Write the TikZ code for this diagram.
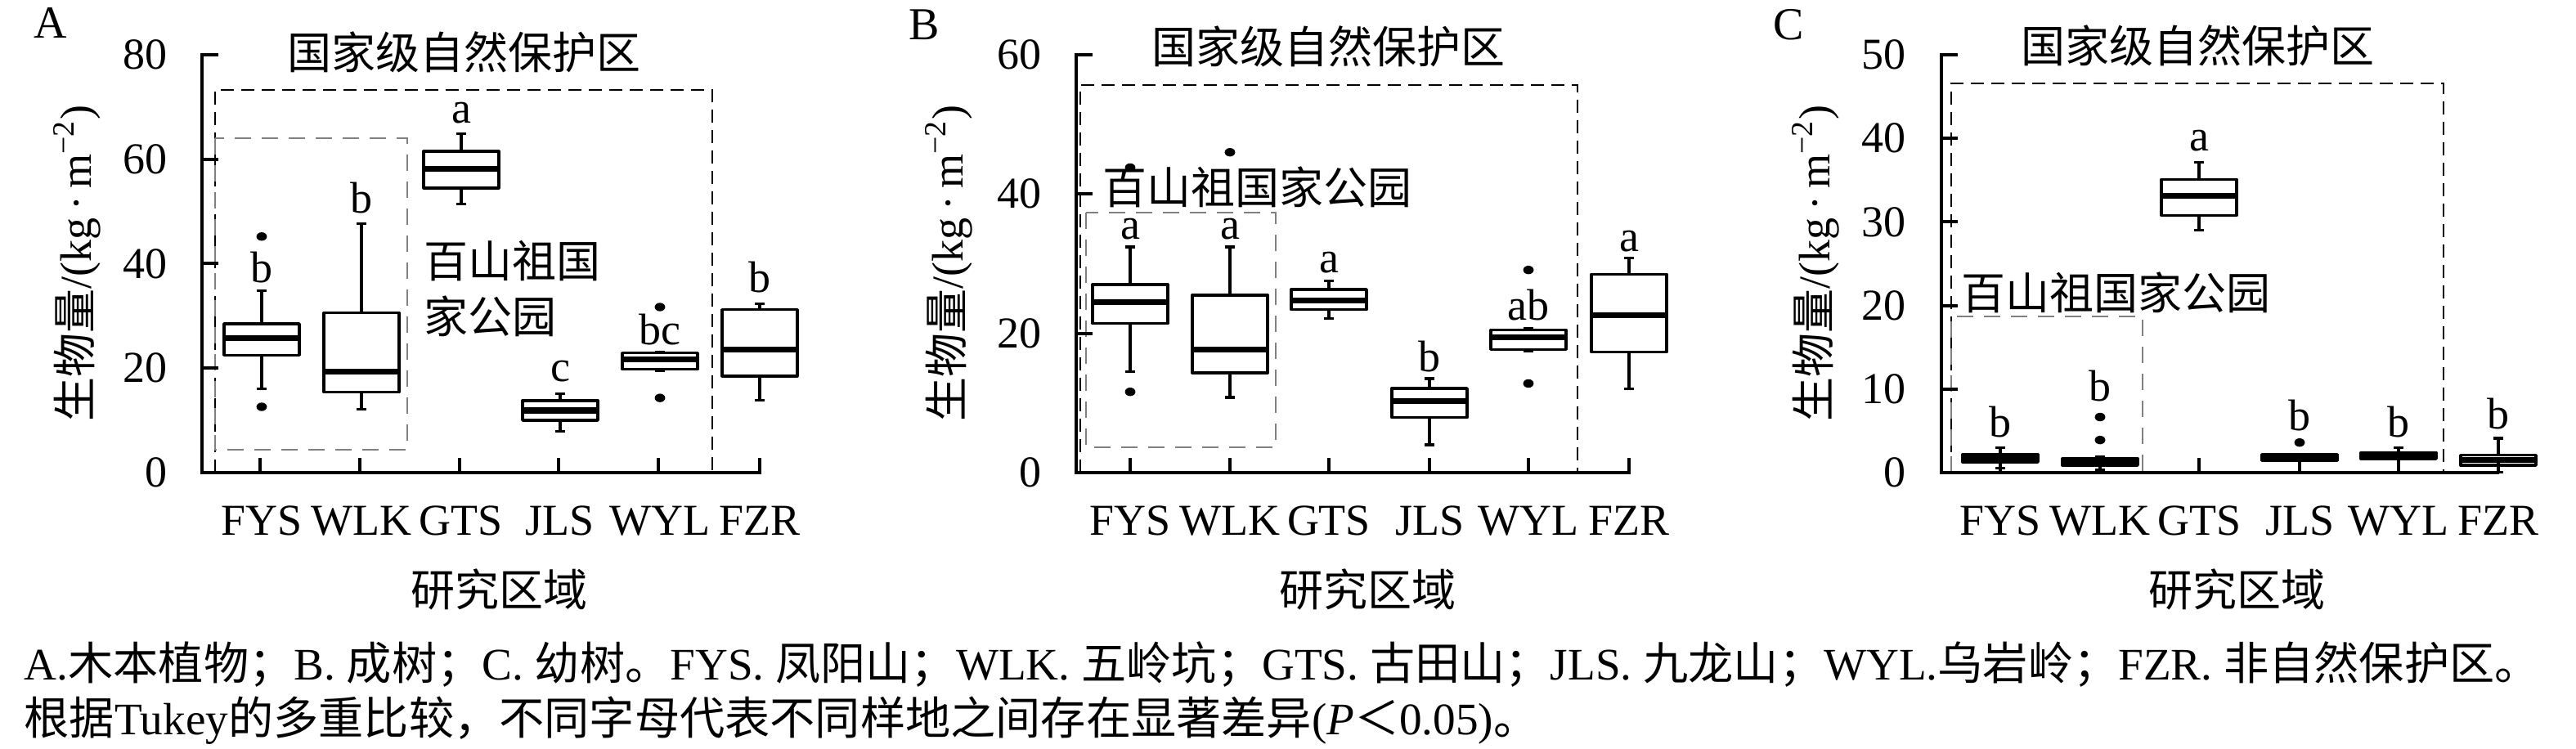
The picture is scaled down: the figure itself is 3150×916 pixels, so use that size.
\documentclass[tikz,border=0pt]{standalone}
\usepackage{fontspec}
\setmainfont{Liberation Serif}
\newfontfamily\cjk{Noto Sans CJK SC}
\newcommand{\bxp}[6]{%
  \draw[whisk] (#1,#2) -- (#1,#3) (#1,#5) -- (#1,#6);
  \draw[whisk] (#1-6,#2) -- (#1+6,#2) (#1-6,#6) -- (#1+6,#6);
  \draw[medl] (#1-46,#4) -- (#1+46,#4);
  \draw[boxl] (#1-46,#3) rectangle (#1+46,#5);
}
\newcommand{\outdot}[2]{\fill (#1,#2) ellipse [x radius=1.6pt, y radius=1.3pt];}
\begin{document}
\begin{tikzpicture}[x=0.25pt,y=-0.25pt,
  axisl/.style={line width=1pt},
  whisk/.style={line width=0.8pt},
  boxl/.style={line width=0.85pt, line join=round},
  medl/.style={line width=1.8pt},
  dashblk/.style={line width=0.7pt, dash pattern=on 4pt off 2.25pt},
  dashgray/.style={line width=0.7pt, black!50, dash pattern=on 5pt off 3.25pt},
  lbl/.style={font=\fontsize{13.5}{16}\selectfont, inner sep=0pt},
  plbl/.style={font=\fontsize{14}{16}\selectfont, inner sep=0pt},
  cjkl/.style={font=\cjk\fontsize{13.5}{16}\selectfont, inner sep=0pt},
  capl/.style={font=\fontsize{13.8}{16}\selectfont, inner sep=0pt, anchor=base west}]
\useasboundingbox (0,0) rectangle (3150,916);

% ===================== Panel A =====================
\node[plbl] (pA) at (62,28) {A};
\node[cjkl] (tA) at (567,64) {国家级自然保护区};
\draw[dashblk] (263,578) -- (263,110) -- (871,110) -- (871,578);
\draw[dashgray] (263,169) rectangle (498,550);
\node[cjkl, anchor=west] (bsA1) at (518,319) {百山祖国};
\node[cjkl, anchor=west] (bsA2) at (518,387) {家公园};
\draw[axisl] (267,67) -- (247,67) -- (247,578) -- (931,578);
\foreach \yy in {194.75,322.5,450.25} \draw[axisl] (247,\yy) -- (267,\yy);
\foreach \v/\yy in {80/67,60/194.75,40/322.5,20/450.25,0/578}
  \node[lbl, anchor=east] (yA\v) at (205,\yy) {\v};
\foreach \xx in {318,440,562,683,805,929} \draw[axisl] (\xx,578) -- (\xx,560);
\node[lbl, rotate=90] (ylA) at (94,322) {{\cjk 生物量}/(kg\,·\,m\textsuperscript{−2})};
\foreach \n/\xx in {FYS/320,WLK/442,GTS/564,JLS/685,WYL/807,FZR/929}
  \node[lbl, anchor=base] (xA\n) at (\xx,655) {\n};
\node[cjkl] (xtA) at (610,721) {研究区域};
\begin{scope}[shift={(0,578)}, y=1.5969pt]
  \bxp{320}{16.1}{22.5}{25.8}{28.5}{34.8}
  \outdot{320}{45.2} \outdot{320}{12.6}
  \bxp{442}{12.1}{15.4}{19.3}{30.6}{47.7}
  \bxp{564}{51.4}{54.5}{58.1}{61.5}{64.9}
  \bxp{685}{7.9}{10.0}{11.9}{13.8}{15.1}
  \bxp{807}{19.5}{19.8}{21.7}{22.9}{23.1}
  \outdot{807}{31.7} \outdot{807}{14.3}
  \bxp{929}{13.9}{18.5}{23.6}{31.2}{32.3}
\end{scope}
\node[lbl, anchor=base] (lA1) at (320,346) {b};
\node[lbl, anchor=base] (lA2) at (442,261) {b};
\node[lbl, anchor=base] (lA3) at (564,151) {a};
\node[lbl, anchor=base] (lA4) at (685,467) {c};
\node[lbl, anchor=base] (lA5) at (807,422) {bc};
\node[lbl, anchor=base] (lA6) at (929,358) {b};

% ===================== Panel B =====================
\node[plbl] (pB) at (1130,30) {B};
\node[cjkl] (tB) at (1624,57) {国家级自然保护区};
\draw[dashblk] (1321,578) -- (1321,104) -- (1929,104) -- (1929,578);
\draw[dashgray] (1328,260) rectangle (1560,547);
\node[cjkl, anchor=west] (bsB) at (1348,229) {百山祖国家公园};
\draw[axisl] (1336,67) -- (1316,67) -- (1316,578) -- (1994,578);
\foreach \yy in {237.3,407.7} \draw[axisl] (1316,\yy) -- (1336,\yy);
\foreach \v/\yy in {60/67,40/237.3,20/407.7,0/578}
  \node[lbl, anchor=east] (yB\v) at (1274,\yy) {\v};
\foreach \xx in {1382,1504,1625,1748,1869,1992} \draw[axisl] (\xx,578) -- (\xx,560);
\node[lbl, rotate=90] (ylB) at (1160,322) {{\cjk 生物量}/(kg\,·\,m\textsuperscript{−2})};
\foreach \n/\xx in {FYS/1382,WLK/1504,GTS/1625,JLS/1748,WYL/1869,FZR/1992}
  \node[lbl, anchor=base] (xB\n) at (\xx,655) {\n};
\node[cjkl] (xtB) at (1672,721) {研究区域};
\begin{scope}[shift={(0,578)}, y=2.1292pt]
  \bxp{1382}{14.5}{21.4}{24.5}{27.0}{32.4}
  \outdot{1382}{43.8} \outdot{1382}{11.6}
  \bxp{1504}{10.8}{14.3}{17.7}{25.5}{32.4}
  \outdot{1504}{46.0}
  \bxp{1625}{22.1}{23.4}{24.7}{26.3}{27.5}
  \bxp{1748}{4.0}{7.9}{10.3}{12.1}{13.5}
  \bxp{1869}{17.5}{17.7}{19.4}{20.5}{20.7}
  \outdot{1869}{29.1} \outdot{1869}{12.8}
  \bxp{1992}{12.0}{17.3}{22.6}{28.5}{30.8}
\end{scope}
\node[lbl, anchor=base] (lB1) at (1382,293) {a};
\node[lbl, anchor=base] (lB2) at (1504,293) {a};
\node[lbl, anchor=base] (lB3) at (1625,334) {a};
\node[lbl, anchor=base] (lB4) at (1748,455) {b};
\node[lbl, anchor=base] (lB5) at (1869,392) {ab};
\node[lbl, anchor=base] (lB6) at (1992,308) {a};

% ===================== Panel C =====================
\node[plbl] (pC) at (2187,30) {C};
\node[cjkl] (tC) at (2687,56) {国家级自然保护区};
\draw[dashblk] (2386,578) -- (2386,102) -- (2988,102) -- (2988,578);
\draw[dashgray] (2386,578) -- (2386,387) -- (2620,387) -- (2620,578);
\node[cjkl, anchor=west] (bsC) at (2398,358) {百山祖国家公园};
\draw[axisl] (2394,67) -- (2374,67) -- (2374,578) -- (3056,578);
\foreach \yy in {169.2,271.4,373.6,475.8} \draw[axisl] (2374,\yy) -- (2394,\yy);
\foreach \v/\yy in {50/67,40/169.2,30/271.4,20/373.6,10/475.8,0/578}
  \node[lbl, anchor=east] (yC\v) at (2331,\yy) {\v};
\foreach \xx in {2446,2568,2689,2812,2933,3055} \draw[axisl] (\xx,578) -- (\xx,560);
\node[lbl, rotate=90] (ylC) at (2220,322) {{\cjk 生物量}/(kg\,·\,m\textsuperscript{−2})};
\foreach \n/\xx in {FYS/2446,WLK/2568,GTS/2689,JLS/2812,WYL/2933,FZR/3055}
  \node[lbl, anchor=base] (xC\n) at (\xx,655) {\n};
\node[cjkl] (xtC) at (2735,721) {研究区域};
\begin{scope}[shift={(0,578)}, y=2.555pt]
  \bxp{2446}{0.5}{1.27}{1.7}{2.15}{3.0}
  \bxp{2568}{0.3}{0.88}{1.27}{1.66}{1.9}
  \outdot{2568}{6.65} \outdot{2568}{3.9}
  \bxp{2689}{29.0}{30.8}{33.1}{35.1}{37.1}
  \bxp{2812}{0.05}{1.44}{1.8}{2.18}{2.18}
  \outdot{2812}{3.6}
  \bxp{2933}{0.05}{1.66}{2.03}{2.4}{3.0}
  \bxp{3055}{0.05}{0.88}{1.55}{2.08}{4.1}
\end{scope}
\node[lbl, anchor=base] (lC1) at (2446,535) {b};
\node[lbl, anchor=base] (lC2) at (2568,491) {b};
\node[lbl, anchor=base] (lC3) at (2689,185) {a};
\node[lbl, anchor=base] (lC4) at (2812,527) {b};
\node[lbl, anchor=base] (lC5) at (2933,535) {b};
\node[lbl, anchor=base] (lC6) at (3055,525) {b};

% ===================== Caption =====================
\node[capl] (cap1) at (29,832) {A.{\cjk 木本植物；}B. {\cjk 成树；}C. {\cjk 幼树。}FYS. {\cjk 凤阳山；}WLK. {\cjk 五岭坑；}GTS. {\cjk 古田山；}JLS. {\cjk 九龙山；}WYL.{\cjk 乌岩岭；}FZR. {\cjk 非自然保护区。}};
\node[capl] (cap2) at (29,899) {{\cjk 根据}Tukey{\cjk 的多重比较，不同字母代表不同样地之间存在显著差异}(\textit{P}{\cjk ＜}0.05){\cjk 。}};
\end{tikzpicture}
\end{document}
